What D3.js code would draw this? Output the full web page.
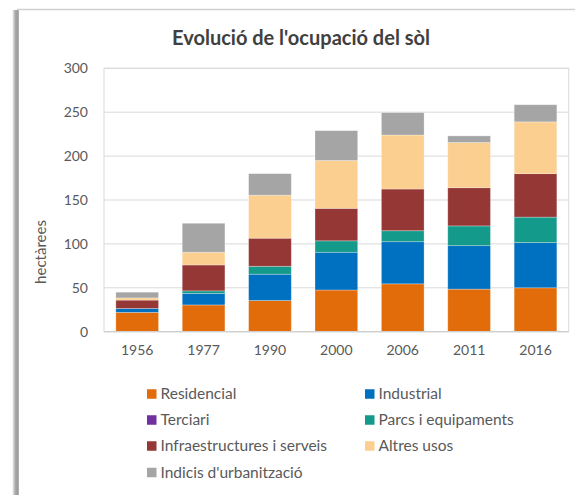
<!DOCTYPE html>
<html>
<head>
<meta charset="utf-8">
<script src="https://cdn.jsdelivr.net/npm/d3@7"></script>
<style>
  html, body { margin: 0; padding: 0; background: #fff; }
  svg { display: block; font-family: Lato, "Open Sans", sans-serif; }
</style>
</head>
<body>
<svg id="chart" width="575" height="495"></svg>
<script>
// Land use per year, in hectares
const years = ["1956", "1977", "1990", "2000", "2006", "2011", "2016"];
const residencial = [22, 30.5, 35.5, 47.5, 54.5, 48.5, 50];
const industrial = [4.5, 13, 30, 43, 48, 49.5, 51.5];
const terciari = [0, 0, 0, 0, 0, 0, 0];
const parcs = [0, 3, 9, 13, 12.5, 22.5, 29];
const infraestructures = [9.5, 29.5, 32, 37, 47.5, 43.5, 49.5];
const altres = [2.5, 14.5, 49, 54.5, 61.5, 51.5, 59];
const indicis = [6.5, 33, 24.5, 34, 25.5, 7.5, 19.5];
const yTicks = [0, 50, 100, 150, 200, 250, 300];

const seriesNames = ["Residencial", "Industrial", "Terciari", "Parcs i equipaments",
  "Infraestructures i serveis", "Altres usos", "Indicis d'urbanització"];
const seriesValues = [residencial, industrial, terciari, parcs, infraestructures, altres, indicis];
const seriesColors = ["#E36C0A", "#0070C0", "#7030A0", "#149A8A", "#953735", "#FBCF8F", "#A5A5A5"];

const rows = years.map((y, i) => {
  const r = { year: y };
  seriesNames.forEach((n, k) => { r[n] = seriesValues[k][i]; });
  return r;
});

const svg = d3.select("#chart");

// Chart frame: top edge and left drop shadow
const defs = svg.append("defs");
const grad = defs.append("linearGradient").attr("id", "shadow")
  .attr("x1", "0").attr("x2", "1").attr("y1", "0").attr("y2", "0");
grad.append("stop").attr("offset", "0").attr("stop-color", "#ececec");
grad.append("stop").attr("offset", "0.45").attr("stop-color", "#a9a9a9");
grad.append("stop").attr("offset", "0.85").attr("stop-color", "#9a9a9a");
grad.append("stop").attr("offset", "1").attr("stop-color", "#c4c4c4");
svg.append("rect").attr("x", 12.5).attr("y", 10).attr("width", 6.5).attr("height", 485)
  .attr("fill", "url(#shadow)");
svg.append("line").attr("x1", 17).attr("x2", 575).attr("y1", 9.5).attr("y2", 9.5)
  .attr("stroke", "#d0d0d0").attr("stroke-width", 1.5);

const plot = { left: 104, right: 568.7, top: 68.3, bottom: 331.7 };

const x = d3.scaleBand().domain(years).range([plot.left, plot.right])
  .paddingInner(0.357).paddingOuter(0.357 / 2);
const y = d3.scaleLinear().domain([0, 300]).range([plot.bottom, plot.top]);

// Gridlines
svg.append("g").selectAll("line").data(yTicks).join("line")
  .attr("x1", plot.left).attr("x2", plot.right)
  .attr("y1", d => y(d)).attr("y2", d => y(d))
  .attr("stroke", "#d9d9d9").attr("stroke-width", 1);

// Plot area outline
svg.append("rect").attr("x", plot.left).attr("y", plot.top)
  .attr("width", plot.right - plot.left).attr("height", plot.bottom - plot.top)
  .attr("fill", "none").attr("stroke", "#d9d9d9").attr("stroke-width", 1);

// Stacked bars
const stack = d3.stack().keys(seriesNames)(rows);
svg.append("g").selectAll("g").data(stack).join("g")
  .attr("fill", (d, i) => seriesColors[i])
  .selectAll("rect").data(d => d).join("rect")
  .attr("x", d => x(d.data.year))
  .attr("width", x.bandwidth())
  .attr("y", d => y(d[1]))
  .attr("height", d => y(d[0]) - y(d[1]))
  .attr("stroke", "#ffffff").attr("stroke-opacity", 0.35).attr("stroke-width", 0.8);

// Bottom axis line
svg.append("line").attr("x1", plot.left).attr("x2", plot.right)
  .attr("y1", plot.bottom).attr("y2", plot.bottom)
  .attr("stroke", "#d0d0d0").attr("stroke-width", 1.2);

// Y axis labels
const yAxis = d3.axisLeft(y).tickValues(yTicks).tickSize(0).tickPadding(16);
const yg = svg.append("g").attr("transform", `translate(${plot.left},0)`).call(yAxis);
yg.select(".domain").remove();
yg.selectAll("text").attr("fill", "#595959").attr("font-size", 14)
  .attr("font-family", "Lato, 'Open Sans', sans-serif");

// X axis labels
const xAxis = d3.axisBottom(x).tickSize(0).tickPadding(13);
const xg = svg.append("g").attr("transform", `translate(0,${plot.bottom})`).call(xAxis);
xg.select(".domain").remove();
xg.selectAll("text").attr("fill", "#595959").attr("font-size", 14)
  .attr("font-family", "Lato, 'Open Sans', sans-serif");

// Axis title
svg.append("text").attr("transform", "translate(46,252) rotate(-90)")
  .attr("text-anchor", "middle").attr("fill", "#595959").attr("font-size", 15)
  .text("hectàrees");

// Chart title
svg.append("text").attr("x", 301).attr("y", 44.5).attr("text-anchor", "middle")
  .attr("fill", "#404040").attr("font-size", 20).attr("font-weight", "bold")
  .text("Evolució de l'ocupació del sòl");

// Legend
const legendPos = [
  [147, 394], [365, 394],
  [147, 420], [365, 420],
  [147, 446], [365, 446],
  [147, 472.5]
];
const legend = svg.append("g").selectAll("g").data(seriesNames).join("g")
  .attr("transform", (d, i) => `translate(${legendPos[i][0]},${legendPos[i][1]})`);
legend.append("rect").attr("x", 0).attr("y", -4.75).attr("width", 9.5).attr("height", 9.5)
  .attr("fill", (d, i) => seriesColors[i]);
legend.append("text").attr("x", 13.5).attr("y", 5.3).attr("fill", "#595959")
  .attr("font-size", 15.5).text(d => d);
</script>
</body>
</html>
